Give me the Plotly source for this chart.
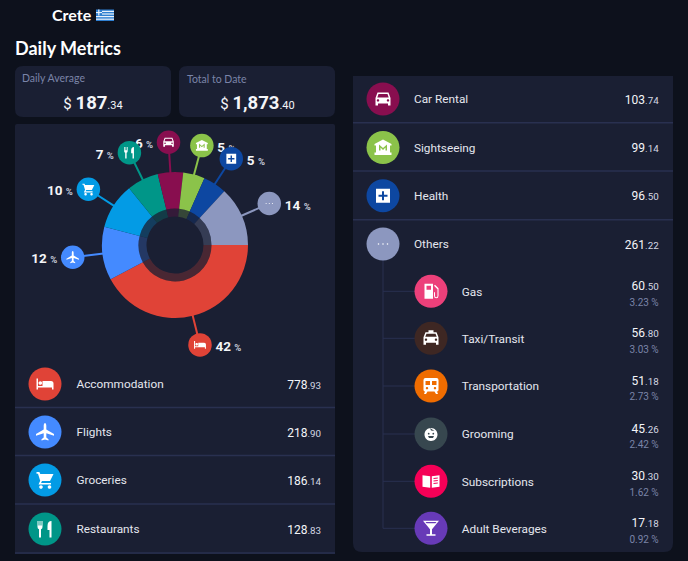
import math, re
import plotly.graph_objects as go

# ---------- data ----------
main_names = ["Accommodation", "Flights", "Groceries", "Restaurants", "Car Rental", "Sightseeing", "Health", "Others"]
main_values = ["778.93", "218.90", "186.14", "128.83", "103.74", "99.14", "96.50", "261.22"]
main_colors = ["#e04337", "#448aff", "#039be5", "#009688", "#880e4f", "#8bc34a", "#0d47a1", "#8c97bf"]
main_icons = ["bed", "plane", "cart", "fork", "car", "museum", "health", "dots"]
# slice shares as read from the donut, and the percentages printed beside it
slice_shares = [42.2, 11.8, 10.2, 7.0, 5.6, 4.8, 5.2, 13.2]
slice_labels = [42, 12, 10, 7, 6, 5, 5, 14]

other_names = ["Gas", "Taxi/Transit", "Transportation", "Grooming", "Subscriptions", "Adult Beverages"]
other_values = ["60.50", "56.80", "51.18", "45.26", "30.30", "17.18"]
other_pcts = ["3.23 %", "3.03 %", "2.73 %", "2.42 %", "1.62 %", "0.92 %"]
other_colors = ["#ec407a", "#3e2723", "#ef6c00", "#37474f", "#f50057", "#673ab7"]
other_icons = ["gas", "taxi", "bus", "face", "book", "martini"]

metric_names = ["Daily Average", "Total to Date"]
metric_values = ["187.34", "1,873.40"]

# ---------- palette / fonts ----------
BG = "#0d111c"
PANEL = "#1a1f33"
SEP = "#293050"
MUTED = "#7a84a8"
WHITE = "#f4f5f8"
F_HEAD = "Lato"
F_TEXT = "Roboto"
F_NUM = "Roboto"

W, H = 688, 561


def circ(cx, cy, r):
    k = 0.5523 * r
    return (f"M{cx+r} {cy} C{cx+r} {cy+k} {cx+k} {cy+r} {cx} {cy+r} "
            f"C{cx-k} {cy+r} {cx-r} {cy+k} {cx-r} {cy} "
            f"C{cx-r} {cy-k} {cx-k} {cy-r} {cx} {cy-r} "
            f"C{cx+k} {cy-r} {cx+r} {cy-k} {cx+r} {cy} Z ")


GLYPHS = {
    "bed": "M-8.5 -5.5 L-7 -5.5 L-7 2 L-2.5 2 L-2.5 -3 L6 -3 Q8.5 -3 8.5 -0.5 L8.5 5.5 L7 5.5 L7 3.5 L-7 3.5 L-7 5.5 L-8.5 5.5 Z "
           + circ(-4.7, -1, 1.8),
    "plane": "M0 -9 Q1.3 -9 1.3 -6.5 L1.3 -2.5 L9 2 L9 3.7 L1.3 1.2 L1.3 5.5 L3.5 7.2 L3.5 8.5 L0 7.5 "
             "L-3.5 8.5 L-3.5 7.2 L-1.3 5.5 L-1.3 1.2 L-9 3.7 L-9 2 L-1.3 -2.5 L-1.3 -6.5 Q-1.3 -9 0 -9 Z",
    "cart": "M-8.5 -8 L-5.6 -8 L-4.7 -6 L8.5 -6 L5 1 L-3 1 L-4 3 L6 3 L6 4.5 L-6.5 4.5 L-4.8 0.8 L-7 -6.3 L-8.5 -6.3 Z "
            + circ(-4, 7, 1.8) + circ(4.5, 7, 1.8),
    "fork": "M-7.5 -8 L-6.5 -8 L-6.5 -3.5 L-5.5 -3.5 L-5.5 -8 L-4.5 -8 L-4.5 -3.5 L-3.5 -3.5 L-3.5 -8 L-2.5 -8 L-2.5 -2 "
            "Q-2.5 0 -4 0.3 L-4 8.5 L-6 8.5 L-6 0.3 Q-7.5 0 -7.5 -2 Z "
            "M2.5 -3 Q2.5 -8 6.5 -8 L6.5 8.5 L4.5 8.5 L4.5 1 L2.5 1 Z",
    "car": "M-5.5 -6.5 L5.5 -6.5 L7.5 -1 L7.5 6.5 L5 6.5 L5 4.5 L-5 4.5 L-5 6.5 L-7.5 6.5 L-7.5 -1 Z "
           "M-4.5 -5 L4.5 -5 L5.7 -1.5 L-5.7 -1.5 Z " + circ(-5, 1.5, 1.2) + circ(5, 1.5, 1.2),
    "museum": "M0 -8 L8.5 -3.5 L8.5 -2 L7 -2 L7 5 L8.5 5 L8.5 7.5 L-8.5 7.5 L-8.5 5 L-7 5 L-7 -2 L-8.5 -2 L-8.5 -3.5 Z "
              "M-4 3 L-4 -3 L0 0.5 L4 -3 L4 3 L2.5 3 L2.5 0 L0 2.5 L-2.5 0 L-2.5 3 Z",
    "health": "M-7 -7 L7 -7 L7 7 L-7 7 Z "
              "M-1 -4.5 L1 -4.5 L1 -1 L4.5 -1 L4.5 1 L1 1 L1 4.5 L-1 4.5 L-1 1 L-4.5 1 L-4.5 -1 L-1 -1 Z",
    "dots": circ(-4.5, 0, 0.8) + circ(0, 0, 0.8) + circ(4.5, 0, 0.8),
    "gas": "M-6.5 -7.5 L2 -7.5 L2 7.5 L-6.5 7.5 Z M-4.5 -5.5 L0 -5.5 L0 -1.5 L-4.5 -1.5 Z "
           "M3 -5.5 L4 -6.5 L7.5 -3 L7.5 4.5 Q7.5 7 5.25 7 Q3 7 3 4.5 L3 1 L4 1 L4 4.5 Q4 6 5.25 6 Q6.5 6 6.5 4.5 L6.5 -2 Z",
    "taxi": "M-2.5 -8 L2.5 -8 L2.5 -6 L5.5 -6 L7.5 -1 L7.5 6.5 L5 6.5 L5 4.5 L-5 4.5 L-5 6.5 L-7.5 6.5 L-7.5 -1 L-5.5 -6 L-2.5 -6 Z "
            "M-4.5 -4.5 L4.5 -4.5 L5.7 -1.5 L-5.7 -1.5 Z " + circ(-5, 1.5, 1.2) + circ(5, 1.5, 1.2),
    "bus": "M-5.5 -8 L5.5 -8 Q7.5 -8 7.5 -6 L7.5 4 Q7.5 5.5 5.5 5.5 L-5.5 5.5 Q-7.5 5.5 -7.5 4 L-7.5 -6 Q-7.5 -8 -5.5 -8 Z "
           "M-5.5 -5 L-1 -5 L-1 -1 L-5.5 -1 Z M1 -5 L5.5 -5 L5.5 -1 L1 -1 Z "
           + circ(-4, 2.3, 1.2) + circ(4, 2.3, 1.2)
           + "M-6 5.5 L-3.5 5.5 L-5 8 L-7 8 Z M6 5.5 L3.5 5.5 L5 8 L7 8 Z",
    "face": circ(0, 0.5, 6.5) + circ(-2.3, -0.3, 0.9) + circ(2.3, -0.3, 0.9)
            + "M-3 2 L3 2 L2 4 L-2 4 Z M-1 -6 L3.5 -3 L0 -3.5 Z",
    "book": "M-8.5 -6 L-0.8 -5 L-0.8 6.5 L-8.5 5.5 Z "
            "M0.8 -5 L8.5 -6 L8.5 5.5 L0.8 6.5 Z "
            "M2.5 -3.2 L6.8 -3.8 L6.8 -2.8 L2.5 -2.2 Z M2.5 -0.7 L6.8 -1.3 L6.8 -0.3 L2.5 0.3 Z M2.5 1.8 L6.8 1.2 L6.8 2.2 L2.5 2.8 Z",
    "martini": "M-8 -7.5 L8 -7.5 L1 1 L1 6 L4.5 6 L4.5 7.5 L-4.5 7.5 L-4.5 6 L-1 6 L-1 1 Z "
               "M-5.5 -6.3 L5.5 -6.3 L4.4 -5 L-4.4 -5 Z",
}


def place(glyph, cx, cy, s=1.0):
    """Scale and move a glyph drawn round (0,0) to pixel position (cx, cy)."""
    out, is_x = [], True
    for tok in re.findall(r"[A-Za-z]|-?\d+\.?\d*(?:e-?\d+)?", glyph):
        if tok.isalpha():
            out.append(tok)
            is_x = True
        else:
            v = float(tok) * s + (cx if is_x else cy)
            out.append(f"{v:.2f}")
            is_x = not is_x
    return " ".join(out)


def round_rect(x0, y0, x1, y1, tl, tr, br, bl):
    return (f"M{x0+tl} {y0} L{x1-tr} {y0} Q{x1} {y0} {x1} {y0+tr} L{x1} {y1-br} Q{x1} {y1} {x1-br} {y1} "
            f"L{x0+bl} {y1} Q{x0} {y1} {x0} {y1-bl} L{x0} {y0+tl} Q{x0} {y0} {x0+tl} {y0} Z")


def money(v, big, small, color=WHITE):
    a, b = v.split(".")
    return f'<span style="font-size:{big}px">{a}</span><span style="font-size:{small}px;fill:{color}">.{b}</span>'


fig = go.Figure()
shapes = []


def box(path):
    shapes.append(dict(type="path", path=path, xref="x", yref="y", fillcolor=PANEL, line_width=0, layer="below"))


def sep(x0, x1, y):
    shapes.append(dict(type="line", x0=x0, x1=x1, y0=y, y1=y, xref="x", yref="y",
                       line=dict(color=SEP, width=1.5), layer="below"))


def text(xs, ys, labels, pos, size, color, family, weight=None):
    font = dict(size=size, color=color, family=family)
    if weight:
        font["weight"] = weight
    fig.add_trace(go.Scatter(x=xs, y=ys, text=labels, mode="text", textposition=pos,
                             textfont=font, hoverinfo="skip", cliponaxis=False))


def icon_shape(name, cx, cy, s, color="#ffffff"):
    shapes.append(dict(type="path", path=place(GLYPHS[name], cx, cy, s), xref="x", yref="y",
                       fillcolor=color, line_width=0, layer="above"))


# ---------- panels ----------
box(round_rect(15, 66, 171, 117, 8, 8, 8, 8))
box(round_rect(179, 66, 335, 117, 8, 8, 8, 8))
box(round_rect(15, 124, 335, 554, 2, 2, 0, 0))
box(round_rect(353, 76, 673, 552, 0, 0, 9, 9))
for y in (407.5, 455.5, 504, 553):
    sep(15, 335, y)
for y in (122.7, 171, 219.7):
    sep(353, 673, y)

# ---------- headings ----------
text([52], [16.5], ["Crete"], "middle right", 16, "#ffffff", F_HEAD, 700)
text([15], [50], ["Daily Metrics"], "middle right", 18, "#ffffff", F_HEAD, 700)
text([22, 187], [79, 80], metric_names, "middle right", 10.5, MUTED, F_HEAD)
money_lines = ['<span style="font-size:15px">$ </span><b>' + metric_values[0].split(".")[0] + '</b><span style="font-size:11px">.' + metric_values[0].split(".")[1] + '</span>',
               '<span style="font-size:15px">$ </span><b>' + metric_values[1].split(".")[0] + '</b><span style="font-size:11px">.' + metric_values[1].split(".")[1] + '</span>']
text([93, 257.5], [104, 104], money_lines, "middle center", 18.5, WHITE, F_NUM)

# flag
shapes.append(dict(type="rect", x0=96, x1=114, y0=9.5, y1=21, xref="x", yref="y",
                   fillcolor="#2f7fd0", line_width=0, layer="above"))
for i in range(4):
    yy = 10.8 + i * 2.6
    shapes.append(dict(type="rect", x0=96 + (6 if i < 2 else 0), x1=114, y0=yy, y1=yy + 1.2, xref="x", yref="y",
                       fillcolor="#eaf2fb", line_width=0, layer="above"))
shapes.append(dict(type="rect", x0=98.2, x1=99.4, y0=9.5, y1=15.5, xref="x", yref="y",
                   fillcolor="#eaf2fb", line_width=0, layer="above"))
shapes.append(dict(type="rect", x0=96, x1=102, y0=12, y1=13.1, xref="x", yref="y",
                   fillcolor="#eaf2fb", line_width=0, layer="above"))

# ---------- donut ----------
CX, CY, R, RING, HOLE = 175, 245, 73, 36.5, 28.5
total = sum(slice_shares)


def dom(r):
    return dict(x=[(CX - r) / W, (CX + r) / W], y=[1 - (CY + r) / H, 1 - (CY - r) / H])


fig.add_trace(go.Pie(values=slice_shares, labels=main_names, sort=False, direction="clockwise", rotation=90,
                     hole=RING / R, domain=dom(R), textinfo="none", hoverinfo="skip",
                     marker=dict(colors=main_colors, line=dict(width=0))))
fig.add_trace(go.Pie(values=slice_shares, labels=main_names, sort=False, direction="clockwise", rotation=90,
                     hole=HOLE / RING, domain=dom(RING), textinfo="none", hoverinfo="skip", opacity=0.24,
                     marker=dict(colors=main_colors, line=dict(width=0))))

# callouts placed from each slice's mid-angle
LEAD_R = 103
cum = 0
call_x, call_y, lab_r_x, lab_r_y, lab_r_t, lab_l_x, lab_l_y, lab_l_t = [], [], [], [], [], [], [], []
for v, pct, col in zip(slice_shares, slice_labels, main_colors):
    mid = math.radians(90 + (cum + v / 2) / total * 360)
    cum += v
    sx, cy_ = math.sin(mid), -math.cos(mid)
    fx, fy = CX + LEAD_R * sx, CY + LEAD_R * cy_
    fig.add_trace(go.Scatter(x=[CX + (R - 1) * sx, fx], y=[CY + (R - 1) * cy_, fy], mode="lines",
                             line=dict(color=col, width=2), hoverinfo="skip"))
    call_x.append(fx)
    call_y.append(fy)
    lbl = f'<b>{pct}</b> <span style="font-size:9.5px;fill:#c9cddb"><b>%</b></span>'
    if sx > 0:
        lab_r_x.append(fx + 15.5); lab_r_y.append(fy + 2.8); lab_r_t.append(lbl)
    else:
        lab_l_x.append(fx - 15.5); lab_l_y.append(fy + 2.8); lab_l_t.append(lbl)

text(lab_r_x, lab_r_y, lab_r_t, "middle right", 13.5, WHITE, F_NUM)
text(lab_l_x, lab_l_y, lab_l_t, "middle left", 13.5, WHITE, F_NUM)
fig.add_trace(go.Scatter(x=call_x, y=call_y, mode="markers", hoverinfo="skip",
                         marker=dict(size=23.5, color=main_colors, line=dict(width=0))))
for name, x, y in zip(main_icons, call_x, call_y):
    icon_shape(name, x, y, 0.7)

# ---------- lists ----------
left_y = [384, 432, 480, 529]
right_y = [99, 147.5, 195.7, 244]
sub_y = [291.3, 338.3, 386, 434, 481.3, 528.3]
DY = 1.5  # vertical nudge of row text

# tree
fig.add_trace(go.Scatter(x=[383, 383], y=[260, sub_y[-1]], mode="lines", line=dict(color=SEP, width=1), hoverinfo="skip"))
for y in sub_y:
    fig.add_trace(go.Scatter(x=[383, 431], y=[y, y], mode="lines", line=dict(color=SEP, width=1), hoverinfo="skip"))

fig.add_trace(go.Scatter(x=[45] * 4, y=left_y, mode="markers", hoverinfo="skip",
                         marker=dict(size=33, color=main_colors[:4], line=dict(width=0))))
fig.add_trace(go.Scatter(x=[383] * 4, y=right_y, mode="markers", hoverinfo="skip",
                         marker=dict(size=33, color=main_colors[4:], line=dict(width=0))))
fig.add_trace(go.Scatter(x=[431] * 6, y=sub_y, mode="markers", hoverinfo="skip",
                         marker=dict(size=33, color=other_colors, line=dict(width=0))))
for n, y in zip(main_icons[:4], left_y):
    icon_shape(n, 45, y, 1.0)
for n, y in zip(main_icons[4:], right_y):
    icon_shape(n, 383, y, 1.0)
for n, y in zip(other_icons, sub_y):
    icon_shape(n, 431, y, 1.0)

text([76.5] * 4, [y + DY for y in left_y], main_names[:4], "middle right", 11.8, "#e4e6ee", F_TEXT)
text([414] * 4, [y + DY for y in right_y], main_names[4:], "middle right", 11.8, "#e4e6ee", F_TEXT)
text([461.8] * 6, [y + DY for y in sub_y], other_names, "middle right", 11.8, "#e4e6ee", F_TEXT)

C = "#d5d8e3"
text([321] * 4, [y + DY for y in left_y], [money(v, 12, 9.8, C) for v in main_values[:4]], "middle left", 12, WHITE, F_NUM)
text([658.7] * 4, [y + DY for y in right_y], [money(v, 12, 9.8, C) for v in main_values[4:]], "middle left", 12, WHITE, F_NUM)
text([658.7] * 6, [y - 5.6 + DY for y in sub_y], [money(v, 12, 9.8, C) for v in other_values], "middle left", 12, WHITE, F_NUM)
text([658.7] * 6, [y + 10.4 + DY for y in sub_y], other_pcts, "middle left", 10, MUTED, F_TEXT)

fig.update_layout(
    width=W, height=H, margin=dict(l=0, r=0, t=0, b=0), showlegend=False,
    paper_bgcolor=BG, plot_bgcolor=BG, shapes=shapes,
    xaxis=dict(range=[0, W], visible=False, fixedrange=True, domain=[0, 1]),
    yaxis=dict(range=[H, 0], visible=False, fixedrange=True, domain=[0, 1]),
)
fig.write_html("out.html", config={"displayModeBar": False},
               post_script=f"document.body.style.margin='0';document.body.style.background='{BG}';document.documentElement.style.overflow='hidden';")
